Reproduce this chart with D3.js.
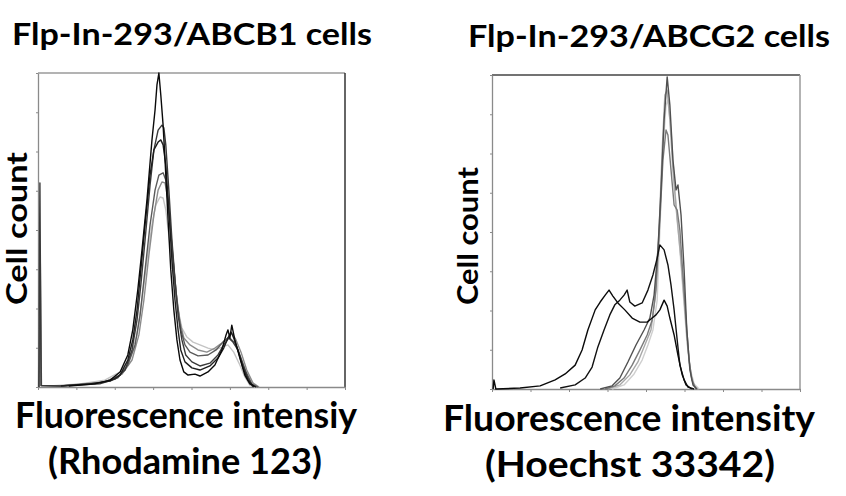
<!DOCTYPE html>
<html>
<head>
<meta charset="utf-8">
<script src="https://cdn.jsdelivr.net/npm/d3@7"></script>
<style>
  body { margin: 0; background: #fff; }
  text { font-family: Lato, "Open Sans", sans-serif; font-weight: 700; fill: #000; }
</style>
</head>
<body>
<svg id="chart" width="846" height="496"></svg>
<script>
// histogram traces, [channel (decade units), relative cell count]
const rhoA = [[0.8,0.3],[1.48,1],[1.88,2.2],[2.14,4.8],[2.34,10.2],[2.47,18.2],[2.6,30.9],[2.71,43.6],[2.84,59.6],[2.97,78.7],[3.05,88.2],[3.1,96.2],[3.15,100],[3.2,93],[3.26,83.4],[3.31,72.3],[3.39,53.2],[3.46,37.3],[3.54,24.5],[3.62,15],[3.7,8.6],[3.8,4.8],[3.91,3.8],[4.09,4.1],[4.22,3.5],[4.43,4.8],[4.61,7],[4.79,11.8],[4.9,16.6],[4.95,18.2],[5.0,15.6],[5.05,19.7],[5.13,15],[5.26,9.2],[5.39,3.8],[5.52,1],[5.68,0]];
const rhoB = [[0.02,0],[0.05,65],[0.08,0.5],[0.57,0.3],[1.61,1],[2.01,2.5],[2.27,5.4],[2.45,11.8],[2.58,21.3],[2.68,32.5],[2.79,46.8],[2.92,64.3],[3.02,75.5],[3.13,81.8],[3.23,83.4],[3.28,82.5],[3.33,77.1],[3.41,62.7],[3.49,46.8],[3.57,34.1],[3.65,22.9],[3.75,15],[3.85,10.2],[4.01,8],[4.22,6.7],[4.48,7.6],[4.69,10.2],[4.84,13.4],[4.97,15.6],[5.08,14.3],[5.21,11.8],[5.34,7],[5.47,2.9],[5.6,0]];
const rhoC = [[0.6,0.3],[1.35,1],[1.88,1.9],[2.14,3.8],[2.34,8.6],[2.47,15],[2.58,24.5],[2.68,37.3],[2.79,51.6],[2.92,67.5],[3.02,75.5],[3.13,78],[3.2,78.7],[3.26,77.1],[3.33,70.7],[3.41,56.4],[3.49,40.4],[3.57,27.7],[3.65,18.2],[3.72,11.8],[3.83,8],[4.01,6.1],[4.22,5.4],[4.48,6.7],[4.69,9.2],[4.84,12.4],[4.95,15.6],[5.03,17.5],[5.1,15.6],[5.21,11.8],[5.34,6.1],[5.47,2.2],[5.63,0]];
const rhoD = [[0.03,0],[0.06,40],[0.09,0.5],[0.57,0.3],[1.61,1.3],[2.08,2.9],[2.34,7],[2.53,13.4],[2.66,22.9],[2.79,37.3],[2.92,51.6],[3.05,62.7],[3.15,67.5],[3.26,68.2],[3.33,65.9],[3.41,56.4],[3.52,40.4],[3.62,27.7],[3.72,18.2],[3.83,13.4],[3.96,11.1],[4.17,9.9],[4.43,10.2],[4.64,11.8],[4.82,14.3],[4.97,15.9],[5.13,14],[5.26,10.2],[5.42,4.8],[5.57,1],[5.73,0]];
const rhoE = [[0.01,0],[0.04,25],[0.07,0.5],[0.31,0.3],[1.09,1],[1.74,2.2],[2.14,4.8],[2.4,9.2],[2.58,16.6],[2.71,27.7],[2.84,40.4],[2.97,51.6],[3.07,58],[3.18,60.5],[3.26,60.2],[3.33,56.4],[3.44,45.2],[3.54,34.1],[3.65,24.5],[3.75,18.8],[3.88,15.9],[4.04,14.3],[4.22,13.4],[4.43,12.4],[4.61,11.8],[4.79,12.7],[4.95,13.4],[5.1,11.1],[5.26,7],[5.39,3.2],[5.52,0.6],[5.65,0]];
const rhoF = [[0.57,0.3],[1.74,1.6],[2.19,4.1],[2.45,8.6],[2.63,16.6],[2.76,27.7],[2.89,42],[3.02,54.8],[3.13,62.7],[3.23,65.3],[3.31,65],[3.39,59.6],[3.49,45.2],[3.59,30.9],[3.7,20.7],[3.8,15.6],[3.96,13.4],[4.17,11.8],[4.4,11.1],[4.61,12.4],[4.79,14],[4.95,15.6],[5.05,17.2],[5.16,15],[5.29,11.1],[5.44,5.4],[5.6,1.3],[5.76,0]];

const hoeA = [[0.03,0],[0.05,2.9],[0.1,0],[0.73,0.3],[1.25,1],[1.64,2.9],[1.9,4.8],[2.16,7.6],[2.34,12.4],[2.49,18.8],[2.68,25.2],[2.81,27.7],[2.94,29.9],[3.04,31.5],[3.14,29.6],[3.27,27.4],[3.45,25.2],[3.64,22.6],[3.84,21.3],[4.03,21.3],[4.16,22.6],[4.26,23.6],[4.36,25.2],[4.47,28.3],[4.55,26.4],[4.62,22.6],[4.73,17.2],[4.83,10.8],[4.94,4.5],[5.04,1.3],[5.19,0]];
const hoeB = [[1.77,0.3],[2.16,1.3],[2.42,3.5],[2.6,7],[2.75,13.4],[2.91,18.8],[3.06,23.6],[3.19,26.8],[3.32,28.3],[3.43,29.9],[3.51,31.5],[3.58,27.7],[3.71,26.4],[3.9,27.4],[4.05,31.5],[4.18,36.3],[4.29,41.7],[4.36,45.9],[4.47,44.3],[4.57,39.5],[4.65,33.1],[4.73,25.2],[4.81,15.6],[4.88,7.6],[4.99,2.9],[5.09,0.6],[5.25,0]];
const hoeC = [[2.81,0],[3.12,1],[3.32,3.5],[3.53,8.6],[3.74,14],[3.95,18.8],[4.1,22.6],[4.21,29.9],[4.31,44.3],[4.39,63.4],[4.47,85.7],[4.55,99.4],[4.62,90.4],[4.7,72.9],[4.78,63.4],[4.83,65],[4.91,55.4],[4.99,37.9],[5.06,18.8],[5.14,6.1],[5.22,1.3],[5.32,0]];
const hoeD = [[2.94,0],[3.19,1],[3.43,3.5],[3.64,7.6],[3.84,12.4],[4.03,17.2],[4.16,22],[4.26,31.5],[4.36,53.8],[4.44,72.9],[4.52,82.5],[4.57,80.9],[4.65,69.7],[4.73,58.6],[4.81,57],[4.88,50.6],[4.96,36.3],[5.04,22],[5.12,9.2],[5.19,2.9],[5.3,0]];
const hoeE = [[3.01,0],[3.32,1.3],[3.58,4.5],[3.79,8.6],[3.97,14],[4.13,18.8],[4.23,28.3],[4.34,50.6],[4.42,76.1],[4.49,93.6],[4.55,95.2],[4.62,85.7],[4.7,69.7],[4.81,53.8],[4.91,41.1],[5.01,25.2],[5.09,12.4],[5.17,4.5],[5.25,1],[5.35,0]];
const hoeF = [[3.12,0],[3.43,1.3],[3.69,4.8],[3.9,9.2],[4.05,14],[4.18,18.8],[4.29,28.3],[4.36,50.6],[4.44,76.1],[4.52,90.4],[4.57,92],[4.65,82.5],[4.75,63.4],[4.86,47.5],[4.96,31.5],[5.06,15.6],[5.14,6.7],[5.25,1.6],[5.38,0]];

const xTicks = [0, 1, 2, 3, 4, 5, 6, 7, 8];
const yTicks = [0, 12.5, 25, 37.5, 50, 62.5, 75, 87.5, 100];

const titles = ["Flp-In-293/ABCB1 cells", "Flp-In-293/ABCG2 cells"];
const xLabel1 = ["Fluorescence intensiy", "Fluorescence intensity"];
const xLabel2 = ["(Rhodamine 123)", "(Hoechst 33342)"];
const yLabel = "Cell count";

const svg = d3.select("#chart");

function panel(cfg) {
  let x = d3.scaleLinear().domain([0, 8]).range([cfg.x0, cfg.x1]);
  let y = d3.scaleLinear().domain([0, 100]).range([cfg.y0, cfg.y1]);
  let g = svg.append("g");

  // frame: top and right edges
  g.append("line").attr("x1", x(0)).attr("x2", x(8)).attr("y1", y(100)).attr("y2", y(100))
    .attr("stroke", cfg.topColor).attr("stroke-width", 1.5);
  g.append("line").attr("x1", x(8)).attr("x2", x(8)).attr("y1", y(100)).attr("y2", y(0))
    .attr("stroke", cfg.rightColor).attr("stroke-width", 1.5);

  let xAxis = g.append("g").attr("transform", `translate(0,${y(0)})`)
    .call(d3.axisBottom(x).tickValues(xTicks).tickSize(3).tickSizeOuter(0).tickFormat(""));
  let yAxis = g.append("g").attr("transform", `translate(${x(0)},0)`)
    .call(d3.axisLeft(y).tickValues(yTicks).tickSize(2).tickSizeOuter(0).tickFormat(""));
  [xAxis, yAxis].forEach(a => {
    a.select(".domain").attr("stroke", "#8a8a8a").attr("stroke-width", 1.3);
    a.selectAll(".tick line").attr("stroke", "#8a8a8a");
  });

  let line = d3.line().x(d => x(d[0])).y(d => y(d[1]));
  g.selectAll("path.trace")
    .data(cfg.series)
    .join("path")
    .attr("class", "trace")
    .attr("d", d => line(d))
    .attr("fill", "none")
    .attr("stroke", (d, i) => cfg.colors[i])
    .attr("stroke-width", 1.4)
    .attr("stroke-linejoin", "round");

  g.append("text").attr("x", cfg.titleX).attr("y", cfg.titleY)
    .attr("font-size", 31).attr("textLength", cfg.titleW).attr("lengthAdjust", "spacingAndGlyphs")
    .text(cfg.title);
  g.append("text").attr("x", cfg.l1X).attr("y", cfg.l1Y)
    .attr("font-size", 37).attr("textLength", cfg.l1W).attr("lengthAdjust", "spacingAndGlyphs")
    .text(cfg.label1);
  g.append("text").attr("x", cfg.l2X).attr("y", cfg.l1Y + 46)
    .attr("font-size", 37).attr("textLength", cfg.l2W).attr("lengthAdjust", "spacingAndGlyphs")
    .text(cfg.label2);
  g.append("text")
    .attr("transform", `translate(${cfg.ylX},${cfg.ylY}) rotate(-90)`)
    .attr("font-size", 28).attr("textLength", cfg.ylW).attr("lengthAdjust", "spacingAndGlyphs")
    .text(yLabel);
}

panel({
  x0: 38, x1: 345, y0: 387, y1: 73,
  topColor: "#9a9a9a", rightColor: "#333",
  series: [rhoE, rhoF, rhoD, rhoB, rhoC, rhoA],
  colors: ["#c4c4c4", "#8c8c8c", "#5a5a5a", "#3a3a3a", "#1e1e1e", "#0a0a0a"],
  title: titles[0], titleX: 12, titleY: 45, titleW: 360,
  label1: xLabel1[0], label2: xLabel2[0], l1X: 15, l1Y: 428, l1W: 342, l2X: 48, l2W: 274,
  ylX: 27, ylY: 305, ylW: 153
});

panel({
  x0: 492, x1: 800, y0: 389, y1: 75,
  topColor: "#444", rightColor: "#9a9a9a",
  series: [hoeF, hoeE, hoeD, hoeC, hoeB, hoeA],
  colors: ["#cfcfcf", "#a8a8a8", "#7a7a7a", "#505050", "#111", "#0a0a0a"],
  title: titles[1], titleX: 468, titleY: 47, titleW: 362,
  label1: xLabel1[1], label2: xLabel2[1], l1X: 443, l1Y: 431, l1W: 372, l2X: 485, l2W: 290,
  ylX: 478, ylY: 305, ylW: 138
});
</script>
</body>
</html>
